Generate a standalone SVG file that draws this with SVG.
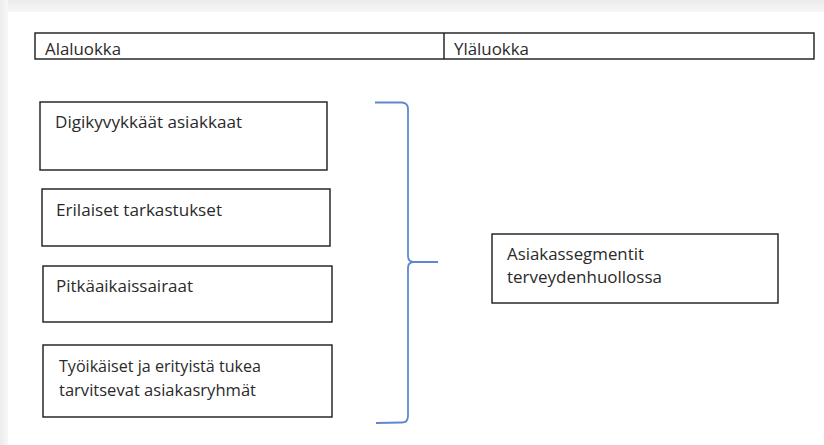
<svg xmlns="http://www.w3.org/2000/svg" width="824" height="445" viewBox="0 0 824 445">
  <defs>
    <linearGradient id="topShade" x1="0" y1="0" x2="0" y2="1">
      <stop offset="0" stop-color="#ebebeb"/>
      <stop offset="1" stop-color="#f6f6f6"/>
    </linearGradient>
    <linearGradient id="leftShade" x1="0" y1="0" x2="1" y2="0">
      <stop offset="0" stop-color="#ececec"/>
      <stop offset="1" stop-color="#f7f7f7"/>
    </linearGradient>
  </defs>
  <style>
    .box { fill: #ffffff; stroke: #1a1a1a; stroke-width: 1.4; }
    .lbl { font-family: "Open Sans", "Liberation Sans", Arial, sans-serif; font-size: 15.5px; fill: #2a2a2a; }
    .brace { fill: none; stroke: #5f87cf; stroke-width: 1.8; stroke-linejoin: round; }
  </style>

  <!-- page background with soft top and left edge -->
  <rect x="0" y="0" width="824" height="445" fill="#ffffff"/>
  <rect x="0" y="0" width="824" height="12" fill="url(#topShade)"/>
  <rect x="0" y="0" width="8" height="445" fill="url(#leftShade)"/>

  <!-- header row -->
  <g id="header">
    <rect class="box" x="35" y="33" width="779" height="26"/>
    <line x1="444" y1="33" x2="444" y2="59" stroke="#1a1a1a" stroke-width="1.4"/>
    <text class="lbl" x="45" y="54.5" textLength="76" lengthAdjust="spacingAndGlyphs">Alaluokka</text>
    <text class="lbl" x="454" y="54.5" textLength="75" lengthAdjust="spacingAndGlyphs">Yläluokka</text>
  </g>

  <g id="node-digi">
    <rect class="box" x="40" y="102" width="287" height="68"/>
    <text class="lbl" x="55" y="128" textLength="187" lengthAdjust="spacingAndGlyphs">Digikyvykkäät asiakkaat</text>
  </g>

  <g id="node-tarkastukset">
    <rect class="box" x="42" y="189" width="288" height="57"/>
    <text class="lbl" x="56" y="216" textLength="166" lengthAdjust="spacingAndGlyphs">Erilaiset tarkastukset</text>
  </g>

  <g id="node-pitkaaikais">
    <rect class="box" x="43" y="266" width="289" height="56"/>
    <text class="lbl" x="56" y="292" textLength="137" lengthAdjust="spacingAndGlyphs">Pitkäaikaissairaat</text>
  </g>

  <g id="node-tyoikaiset">
    <rect class="box" x="43" y="345" width="289" height="72"/>
    <text class="lbl" x="59" y="372" textLength="202" lengthAdjust="spacingAndGlyphs">Työikäiset ja erityistä tukea</text>
    <text class="lbl" x="59" y="396" textLength="197" lengthAdjust="spacingAndGlyphs">tarvitsevat asiakasryhmät</text>
  </g>

  <g id="node-segmentit">
    <rect class="box" x="492" y="234" width="286" height="69"/>
    <text class="lbl" x="507" y="260" textLength="137" lengthAdjust="spacingAndGlyphs">Asiakassegmentit</text>
    <text class="lbl" x="507" y="283" textLength="155" lengthAdjust="spacingAndGlyphs">terveydenhuollossa</text>
  </g>

  <!-- curly brace grouping the subcategories -->
  <g id="connectors">
    <path class="brace" d="M375,102.5 L402,102.5 Q408,103 408,109 L408,256 Q408,262 414,262 L438,262 M414,262 Q408,262 408,268 L408,416 Q408,422.5 402,422.5 L376,423"/>
  </g>
</svg>
